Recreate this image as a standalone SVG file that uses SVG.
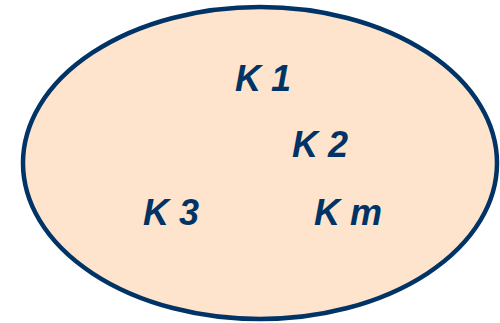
<svg xmlns="http://www.w3.org/2000/svg" width="500" height="323" viewBox="0 0 500 323">
<style>
.lbl{font-family:"Liberation Sans",Arial,sans-serif;font-weight:bold;font-style:italic;font-size:36px;fill:#003366}
</style>
<rect width="500" height="323" fill="#ffffff"/>
<g id="set">
<ellipse cx="260" cy="163" rx="237" ry="156" fill="#FEE4CC" stroke="#003366" stroke-width="4.5"/>
</g>
<g id="k1"><text class="lbl" x="235" y="91">K 1</text></g>
<g id="k2"><text class="lbl" x="292" y="157">K 2</text></g>
<g id="k3"><text class="lbl" x="143" y="225">K 3</text></g>
<g id="km"><text class="lbl" x="314" y="225">K m</text></g>
<g id="connectors"/>
</svg>
